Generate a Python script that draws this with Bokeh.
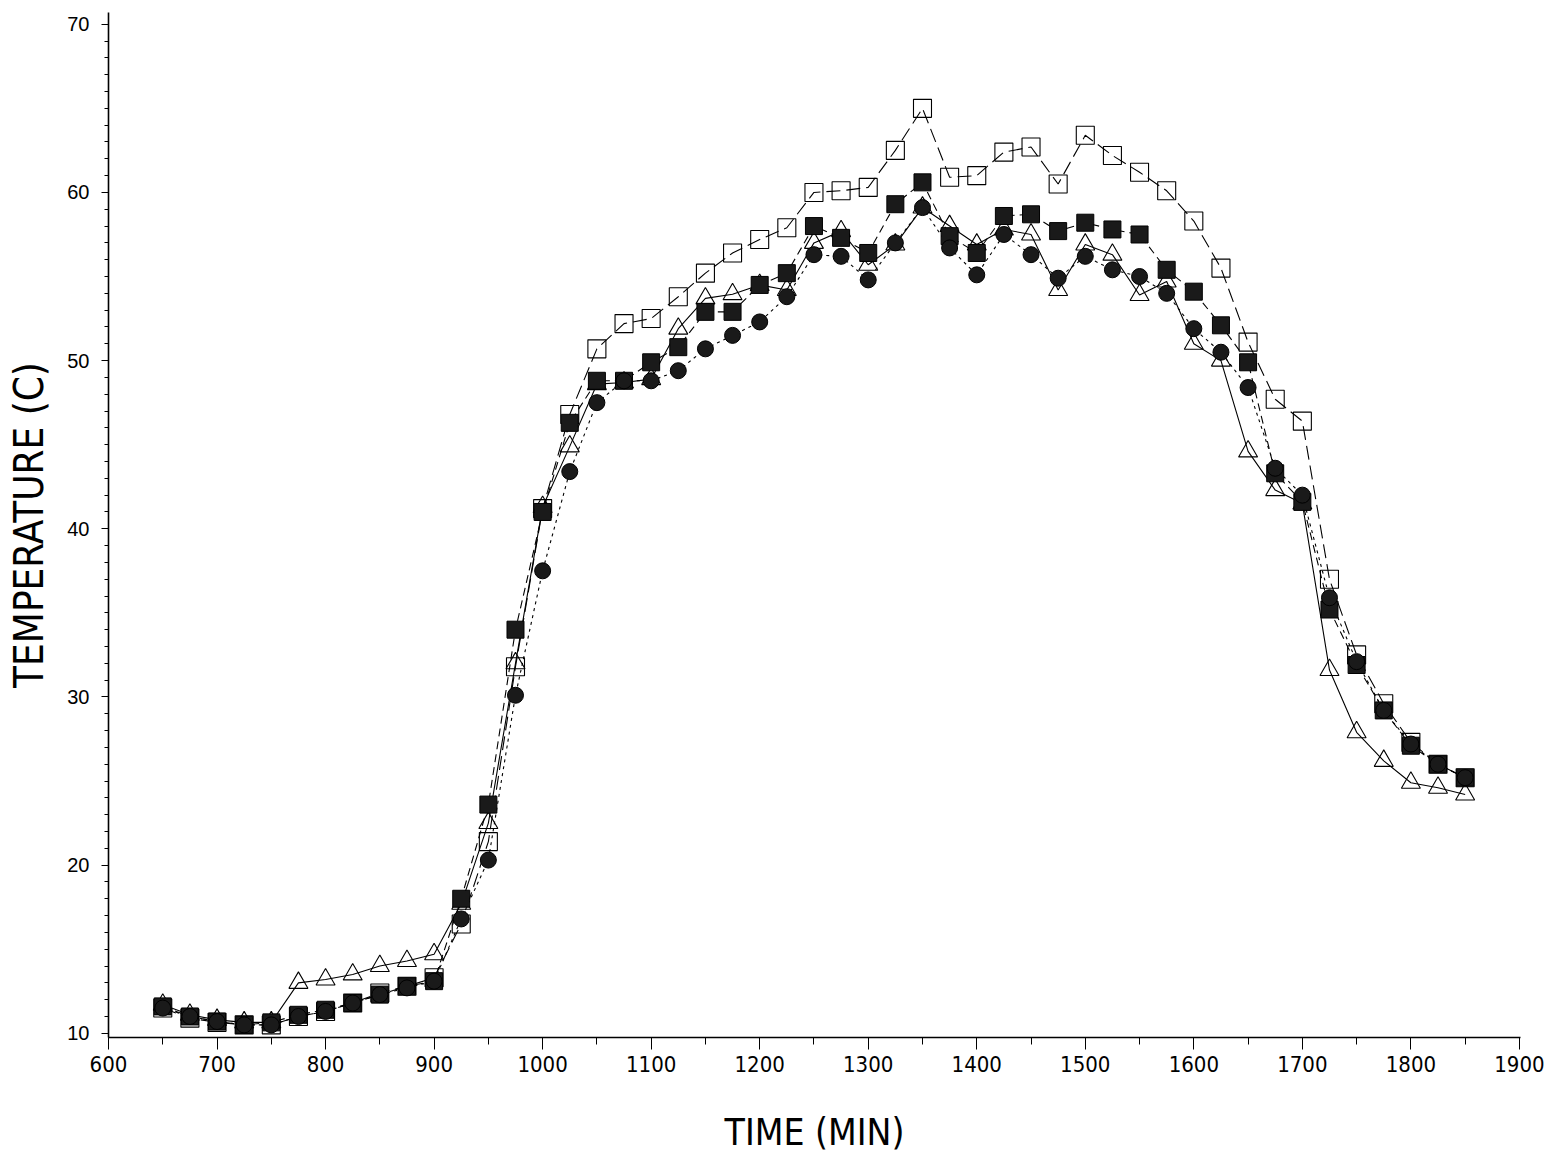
from bokeh.plotting import figure
from bokeh.models import Range1d, FixedTicker
from bokeh.embed import file_html
from bokeh.resources import INLINE

time_min = [650, 675, 700, 725, 750, 775, 800, 825, 850, 875, 900, 925, 950, 975,
            1000, 1025, 1050, 1075, 1100, 1125, 1150, 1175, 1200, 1225, 1250, 1275,
            1300, 1325, 1350, 1375, 1400, 1425, 1450, 1475, 1500, 1525, 1550, 1575,
            1600, 1625, 1650, 1675, 1700, 1725, 1750, 1775, 1800, 1825, 1850]

open_square = [11.5, 10.9, 10.65, 10.5, 10.5, 11.0, 11.3, 11.8, 12.4, 12.8, 13.3, 16.5, 21.4, 31.8,
               41.2, 46.8, 50.7, 52.2, 52.5, 53.8, 55.2, 56.4, 57.2, 57.9, 60.0, 60.1,
               60.3, 62.5, 65.0, 60.9, 61.0, 62.4, 62.7, 60.5, 63.4, 62.2, 61.2, 60.1,
               58.3, 55.5, 51.1, 47.7, 46.4, 37.0, 32.5, 29.6, 27.3, 26.0, 25.2]

filled_square = [11.6, 11.0, 10.7, 10.5, 10.65, 11.1, 11.4, 11.8, 12.3, 12.8, 13.1, 18.0, 23.6, 34.0,
                 41.0, 46.3, 48.8, 48.8, 49.9, 50.8, 52.9, 52.9, 54.5, 55.2, 58.0, 57.3,
                 56.4, 59.3, 60.6, 57.4, 56.4, 58.6, 58.7, 57.7, 58.2, 57.8, 57.5, 55.4,
                 54.1, 52.1, 49.9, 43.3, 41.6, 35.2, 31.9, 29.2, 27.1, 26.0, 25.2]

open_triangle = [11.7, 11.1, 10.8, 10.65, 10.65, 13.0, 13.2, 13.5, 14.0, 14.3, 14.7, 17.7, 22.5, 32.0,
                 41.3, 44.9, 48.6, 48.7, 48.9, 51.9, 53.7, 53.95, 54.5, 54.2, 57.0, 57.7,
                 55.7, 56.9, 59.1, 58.0, 56.9, 57.8, 57.5, 54.2, 56.9, 56.3, 53.9, 54.7,
                 51.0, 50.0, 44.6, 42.3, 41.5, 31.6, 27.9, 26.2, 24.9, 24.6, 24.2]

filled_circle = [11.5, 11.0, 10.7, 10.5, 10.5, 11.0, 11.3, 11.8, 12.3, 12.7, 13.1, 16.8, 20.3, 30.1,
                 37.5, 43.4, 47.5, 48.8, 48.8, 49.4, 50.7, 51.5, 52.3, 53.8, 56.3, 56.2,
                 54.8, 57.0, 59.1, 56.7, 55.1, 57.5, 56.3, 54.9, 56.2, 55.4, 55.0, 54.0,
                 51.9, 50.5, 48.4, 43.6, 42.0, 35.9, 32.1, 29.2, 27.2, 26.0, 25.2]

x_ticks = [600, 700, 800, 900, 1000, 1100, 1200, 1300, 1400, 1500, 1600, 1700, 1800, 1900]
y_ticks = [10, 20, 30, 40, 50, 60, 70]

NARROW = "'DejaVu Sans Condensed', 'Liberation Sans', sans-serif"

p = figure(width=1545, height=1156, output_backend="svg", toolbar_location=None,
           x_range=Range1d(600, 1901), y_range=Range1d(9.75, 70.7),
           min_border_left=108, min_border_right=25, min_border_top=12, min_border_bottom=116,
           x_axis_label="TIME (MIN)", y_axis_label="TEMPERATURE (C)")

p.outline_line_color = None
p.grid.visible = False
p.background_fill_color = "white"
p.border_fill_color = "white"

# lines
p.line(time_min, open_square, line_color="black", line_width=1.1, line_dash="14 6")
p.line(time_min, filled_square, line_color="black", line_width=1.1, line_dash="8 5")
p.line(time_min, open_triangle, line_color="black", line_width=1.1)
p.line(time_min, filled_circle, line_color="black", line_width=1.1, line_dash="3 4")

# markers
p.scatter(time_min, open_triangle, marker="triangle", size=19, line_color="black",
          line_width=1.1, fill_alpha=0)
p.scatter(time_min, open_square, marker="square", size=18, line_color="black",
          line_width=1.1, fill_alpha=0)
p.scatter(time_min, filled_square, marker="square", size=17, line_color="black",
          fill_color="#1a1a1a", line_width=1)
p.scatter(time_min, filled_circle, marker="circle", size=16, line_color="black",
          fill_color="#1a1a1a", line_width=1)

for ax in (p.xaxis[0], p.yaxis[0]):
    ax.axis_line_color = "black"
    ax.axis_line_width = 1.6
    ax.major_tick_line_color = "black"
    ax.minor_tick_line_color = "black"
    ax.major_tick_in = 0
    ax.minor_tick_in = 0
    ax.axis_label_text_font_style = "normal"
    ax.axis_label_text_color = "black"
    ax.major_label_text_color = "black"

p.xaxis.ticker = FixedTicker(ticks=x_ticks, minor_ticks=list(range(600, 1901, 50)))
p.yaxis.ticker = FixedTicker(ticks=y_ticks, minor_ticks=list(range(10, 71, 1)))

p.xaxis.major_tick_out = 12
p.xaxis.minor_tick_out = 7
p.yaxis.major_tick_out = 7
p.yaxis.minor_tick_out = 4

p.xaxis.major_label_text_font = NARROW
p.xaxis.major_label_text_font_size = "22px"
p.xaxis.major_label_standoff = 6
p.xaxis.axis_label_text_font = NARROW
p.xaxis.axis_label_text_font_size = "37px"
p.xaxis.axis_label_standoff = 36

p.yaxis.major_label_text_font = "Liberation Sans"
p.yaxis.major_label_text_font_size = "20px"
p.yaxis.major_label_standoff = 12
p.yaxis.axis_label_text_font = NARROW
p.yaxis.axis_label_text_font_size = "40px"
p.yaxis.axis_label_standoff = 12

open("out.html", "w").write(file_html(p, INLINE))
